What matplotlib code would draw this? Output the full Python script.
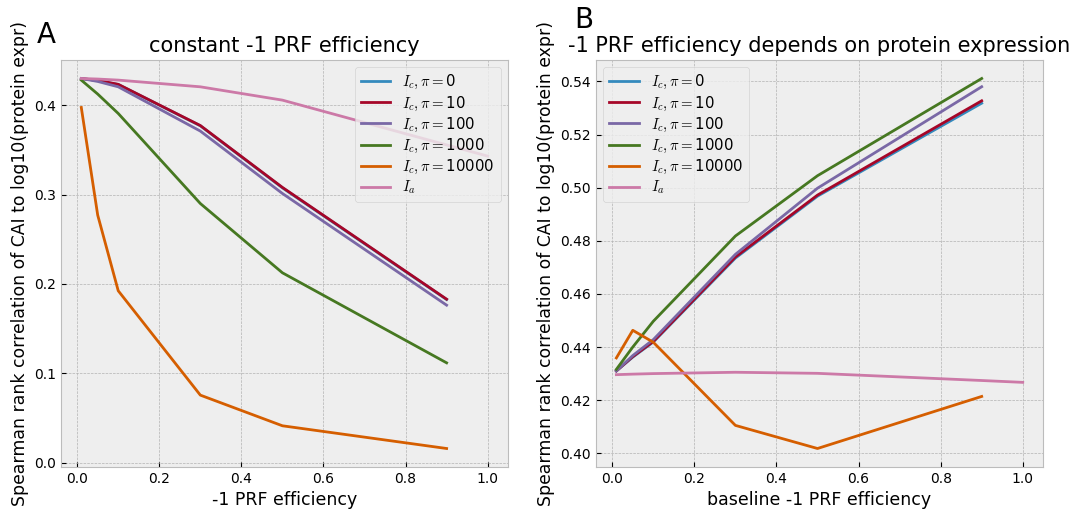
import matplotlib
matplotlib.use("Agg")
import matplotlib.pyplot as plt

plt.style.use("bmh")
plt.rcParams["mathtext.fontset"] = "cm"

# x positions of the -1 PRF efficiency sweep
x_ic = [0.01, 0.05, 0.1, 0.3, 0.5, 0.9]
x_ia = [0.01, 0.05, 0.1, 0.3, 0.5, 0.9, 1.0]

pis = [0, 10, 100, 1000, 10000]
labels = [r"$I_c, \pi=$" + str(p) for p in pis] + [r"$I_a$"]

# panel A: constant efficiency
a_pi0 = [0.4298, 0.4275, 0.4231, 0.3769, 0.3075, 0.1826]
a_pi10 = [0.4298, 0.4276, 0.4233, 0.3772, 0.3080, 0.1830]
a_pi100 = [0.4298, 0.4265, 0.4205, 0.3710, 0.3012, 0.1763]
a_pi1000 = [0.4280, 0.4124, 0.3907, 0.2900, 0.2125, 0.1118]
a_pi10000 = [0.3974, 0.2770, 0.1924, 0.0757, 0.0414, 0.0160]
a_ia = [0.4298, 0.4292, 0.4280, 0.4205, 0.4056, 0.3555, 0.3430]

# panel B: efficiency depends on expression
b_pi0 = [0.4310, 0.4362, 0.4419, 0.4735, 0.4968, 0.5318]
b_pi10 = [0.4310, 0.4364, 0.4421, 0.4739, 0.4972, 0.5327]
b_pi100 = [0.4310, 0.4368, 0.4428, 0.4749, 0.4998, 0.5380]
b_pi1000 = [0.4316, 0.4400, 0.4497, 0.4818, 0.5045, 0.5411]
b_pi10000 = [0.4359, 0.4463, 0.4418, 0.4105, 0.4018, 0.4214]
b_ia = [0.4296, 0.4298, 0.4300, 0.4305, 0.4301, 0.4274, 0.4267]

fig, (ax1, ax2) = plt.subplots(1, 2, figsize=(10.81, 5.15), dpi=100)

for ax, series, ia in [(ax1, [a_pi0, a_pi10, a_pi100, a_pi1000, a_pi10000], a_ia),
                       (ax2, [b_pi0, b_pi10, b_pi100, b_pi1000, b_pi10000], b_ia)]:
    for ys, lab in zip(series, labels[:5]):
        ax.plot(x_ic, ys, lw=2, label=lab)
    ax.plot(x_ia, ia, lw=2, label=labels[5])
    ax.set_ylabel("Spearman rank correlation of CAI to log10(protein expr)", fontsize=12.4)
    ax.tick_params(labelsize=10)

ax1.set_title("constant -1 PRF efficiency", fontsize=15)
ax1.set_xlabel("-1 PRF efficiency", fontsize=12.5)
ax1.legend(loc="upper right", fontsize=10.7, labelspacing=0.2)

ax2.set_title("-1 PRF efficiency depends on protein expression", fontsize=15)
ax2.set_xlabel("baseline -1 PRF efficiency", fontsize=12.5)
ax2.legend(loc="upper left", fontsize=10.7, labelspacing=0.2)

fig.subplots_adjust(left=0.0564, right=0.9649, bottom=0.0932, top=0.8835, wspace=0.197)
fig.text(0.034, 0.9165, "A", fontsize=20)
fig.text(0.531, 0.9456, "B", fontsize=20)

fig.savefig("out.png", dpi=100)
